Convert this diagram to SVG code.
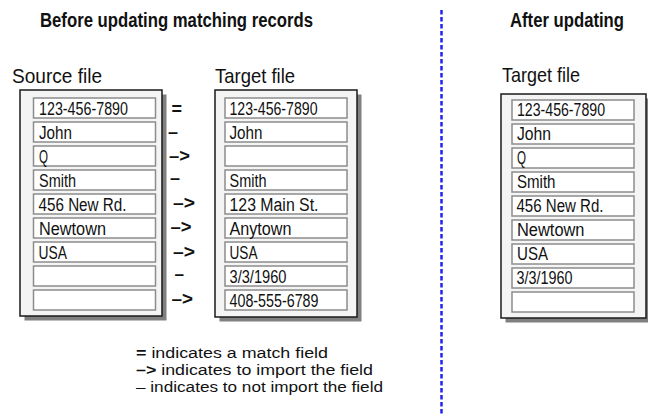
<svg xmlns="http://www.w3.org/2000/svg" width="648" height="416" viewBox="0 0 648 416">
<style>
text{font-family:"Liberation Sans",Arial,sans-serif;fill:#111}
.title{font-size:19.5px;font-weight:bold}
.label{font-size:21px}
.fld{font-size:18px}
.sym{font-size:18px;font-weight:bold}
.leg{font-size:15.5px}
.shadow{fill:#808080}
.panel{fill:#f4f4f4;stroke:#1a1a1a;stroke-width:1.5}
.field{fill:#fff;stroke:#8c8c8c;stroke-width:1.5}
.divider{stroke:#2222ee;stroke-width:2.5;stroke-dasharray:4.5 2.5;fill:none}
</style>
<rect width="648" height="416" fill="#fff"/>
<text class="title" x="40" y="27" textLength="273" lengthAdjust="spacingAndGlyphs">Before updating matching records</text>
<text class="title" x="510" y="27" textLength="114" lengthAdjust="spacingAndGlyphs">After updating</text>
<g id="divider"><line class="divider" x1="441.5" y1="10" x2="441.5" y2="416"/></g>

<g id="source">
<text class="label" x="12" y="83" textLength="90" lengthAdjust="spacingAndGlyphs">Source file</text>
<rect class="shadow" x="24.5" y="94.5" width="142" height="226"/>
<rect class="panel" x="20" y="90" width="142" height="226"/>
<rect class="field" x="33.5" y="98" width="122" height="20"/>
<rect class="field" x="33.5" y="122" width="122" height="20"/>
<rect class="field" x="33.5" y="146" width="122" height="20"/>
<rect class="field" x="33.5" y="170" width="122" height="20"/>
<rect class="field" x="33.5" y="194" width="122" height="20"/>
<rect class="field" x="33.5" y="218" width="122" height="20"/>
<rect class="field" x="33.5" y="242" width="122" height="20"/>
<rect class="field" x="33.5" y="266" width="122" height="20"/>
<rect class="field" x="33.5" y="290" width="122" height="20"/>
<text class="fld" x="39" y="114.5" textLength="89" lengthAdjust="spacingAndGlyphs">123-456-7890</text>
<text class="fld" x="39" y="138.5" textLength="33" lengthAdjust="spacingAndGlyphs">John</text>
<text class="fld" x="39" y="162.5" textLength="9" lengthAdjust="spacingAndGlyphs">Q</text>
<text class="fld" x="39" y="186.5" textLength="37" lengthAdjust="spacingAndGlyphs">Smith</text>
<text class="fld" x="38.5" y="210.5" textLength="88" lengthAdjust="spacingAndGlyphs">456 New Rd.</text>
<text class="fld" x="39" y="234.5" textLength="67" lengthAdjust="spacingAndGlyphs">Newtown</text>
<text class="fld" x="38.5" y="258.5" textLength="28.5" lengthAdjust="spacingAndGlyphs">USA</text>
</g>

<g id="target">
<text class="label" x="215" y="83" textLength="80" lengthAdjust="spacingAndGlyphs">Target file</text>
<rect class="shadow" x="219.5" y="94.5" width="142" height="227"/>
<rect class="panel" x="215" y="90" width="142" height="227"/>
<rect class="field" x="225" y="98" width="122" height="20"/>
<rect class="field" x="225" y="122" width="122" height="20"/>
<rect class="field" x="225" y="146" width="122" height="20"/>
<rect class="field" x="225" y="170" width="122" height="20"/>
<rect class="field" x="225" y="194" width="122" height="20"/>
<rect class="field" x="225" y="218" width="122" height="20"/>
<rect class="field" x="225" y="242" width="122" height="20"/>
<rect class="field" x="225" y="266" width="122" height="20"/>
<rect class="field" x="225" y="290" width="122" height="20"/>
<text class="fld" x="229.5" y="114.5" textLength="88" lengthAdjust="spacingAndGlyphs">123-456-7890</text>
<text class="fld" x="229.5" y="138.5" textLength="33" lengthAdjust="spacingAndGlyphs">John</text>
<text class="fld" x="229.5" y="186.5" textLength="37" lengthAdjust="spacingAndGlyphs">Smith</text>
<text class="fld" x="229.5" y="210.5" textLength="89" lengthAdjust="spacingAndGlyphs">123 Main St.</text>
<text class="fld" x="229.5" y="234.5" textLength="62" lengthAdjust="spacingAndGlyphs">Anytown</text>
<text class="fld" x="229.5" y="258.5" textLength="28" lengthAdjust="spacingAndGlyphs">USA</text>
<text class="fld" x="229.5" y="282.5" textLength="57" lengthAdjust="spacingAndGlyphs">3/3/1960</text>
<text class="fld" x="229.5" y="306.5" textLength="89" lengthAdjust="spacingAndGlyphs">408-555-6789</text>
</g>

<g id="after">
<text class="label" x="502" y="82" textLength="78" lengthAdjust="spacingAndGlyphs">Target file</text>
<rect class="shadow" x="505.5" y="98.5" width="145" height="224"/>
<rect class="panel" x="501" y="94" width="145" height="224"/>
<rect class="field" x="512" y="100" width="122" height="20"/>
<rect class="field" x="512" y="124" width="122" height="20"/>
<rect class="field" x="512" y="148" width="122" height="20"/>
<rect class="field" x="512" y="172" width="122" height="20"/>
<rect class="field" x="512" y="196" width="122" height="20"/>
<rect class="field" x="512" y="220" width="122" height="20"/>
<rect class="field" x="512" y="244" width="122" height="20"/>
<rect class="field" x="512" y="268" width="122" height="20"/>
<rect class="field" x="512" y="292" width="122" height="20"/>
<text class="fld" x="517" y="116" textLength="88" lengthAdjust="spacingAndGlyphs">123-456-7890</text>
<text class="fld" x="517" y="140" textLength="34" lengthAdjust="spacingAndGlyphs">John</text>
<text class="fld" x="517" y="164" textLength="9" lengthAdjust="spacingAndGlyphs">Q</text>
<text class="fld" x="517" y="188" textLength="38.5" lengthAdjust="spacingAndGlyphs">Smith</text>
<text class="fld" x="516.5" y="212" textLength="87" lengthAdjust="spacingAndGlyphs">456 New Rd.</text>
<text class="fld" x="517" y="236" textLength="67.5" lengthAdjust="spacingAndGlyphs">Newtown</text>
<text class="fld" x="517" y="260" textLength="31" lengthAdjust="spacingAndGlyphs">USA</text>
<text class="fld" x="516.5" y="284" textLength="56" lengthAdjust="spacingAndGlyphs">3/3/1960</text>
</g>

<g id="connectors">
<text class="sym" x="171.5" y="114.5" textLength="10.5" lengthAdjust="spacingAndGlyphs">=</text>
<text class="sym" x="168" y="137.5" textLength="10" lengthAdjust="spacingAndGlyphs">–</text>
<text class="sym" x="169" y="162" textLength="21" lengthAdjust="spacingAndGlyphs">–&gt;</text>
<text class="sym" x="170" y="184" textLength="10" lengthAdjust="spacingAndGlyphs">–</text>
<text class="sym" x="173" y="209" textLength="22" lengthAdjust="spacingAndGlyphs">–&gt;</text>
<text class="sym" x="170.5" y="232.5" textLength="21" lengthAdjust="spacingAndGlyphs">–&gt;</text>
<text class="sym" x="173" y="257.5" textLength="22" lengthAdjust="spacingAndGlyphs">–&gt;</text>
<text class="sym" x="174.5" y="280" textLength="9.5" lengthAdjust="spacingAndGlyphs">–</text>
<text class="sym" x="171.5" y="305" textLength="21.5" lengthAdjust="spacingAndGlyphs">–&gt;</text>
</g>

<g id="legend">
<text class="leg" x="136" y="358" textLength="192" lengthAdjust="spacingAndGlyphs"><tspan font-weight="bold">=</tspan> indicates a match field</text>
<text class="leg" x="136" y="375" textLength="237" lengthAdjust="spacingAndGlyphs"><tspan font-weight="bold">–&gt;</tspan> indicates to import the field</text>
<text class="leg" x="136" y="392" textLength="247" lengthAdjust="spacingAndGlyphs">– indicates to not import the field</text>
</g>
</svg>
